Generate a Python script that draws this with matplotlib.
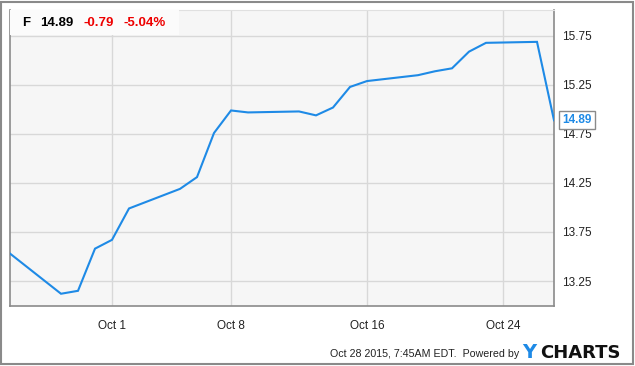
import datetime as dt
import matplotlib
matplotlib.use("Agg")
import matplotlib.pyplot as plt
from matplotlib.patches import Rectangle

# daily closes for F (Ford)
dates = [
    "2015-09-25", "2015-09-28", "2015-09-29", "2015-09-30", "2015-10-01",
    "2015-10-02", "2015-10-05", "2015-10-06", "2015-10-07", "2015-10-08",
    "2015-10-09", "2015-10-12", "2015-10-13", "2015-10-14", "2015-10-15",
    "2015-10-16", "2015-10-19", "2015-10-20", "2015-10-21", "2015-10-22",
    "2015-10-23", "2015-10-26", "2015-10-27",
]
prices = [
    13.53, 13.12, 13.15, 13.58, 13.67,
    13.99, 14.19, 14.31, 14.76, 14.99,
    14.97, 14.98, 14.94, 15.02, 15.23,
    15.29, 15.35, 15.39, 15.42, 15.59,
    15.68, 15.69, 14.89,
]
xtick_dates = ["2015-10-01", "2015-10-08", "2015-10-16", "2015-10-24"]
xtick_labels = ["Oct 1", "Oct 8", "Oct 16", "Oct 24"]
yticks = [13.25, 13.75, 14.25, 14.75, 15.25, 15.75]

ticker = "F"
last_price = "14.89"
change = "-0.79"
change_pct = "-5.04%"
stamp = "Oct 28 2015, 7:45AM EDT.  Powered by"

BLUE = "#1e8ae6"
W, H = 635, 366

plt.rcParams["font.family"] = ["Liberation Sans", "DejaVu Sans"]

x = [dt.datetime.strptime(d, "%Y-%m-%d") for d in dates]
xt = [dt.datetime.strptime(d, "%Y-%m-%d") for d in xtick_dates]

fig = plt.figure(figsize=(W / 100, H / 100), dpi=100)
fig.patch.set_facecolor("white")
ax = fig.add_axes([10 / W, 1 - 306 / H, 544 / W, 296 / H])
ax.set_facecolor("#f6f6f6")

ax.plot(x, prices, color=BLUE, lw=1.5, solid_joinstyle="miter", zorder=3)

ax.set_xlim(dt.datetime(2015, 9, 25), dt.datetime(2015, 10, 27))
ax.set_ylim(12.995, 16.015)
ax.set_xticks(xt)
ax.set_xticklabels(xtick_labels)
ax.set_yticks(yticks)
ax.set_yticklabels([f"{v:.2f}" for v in yticks])
ax.yaxis.tick_right()
ax.tick_params(axis="both", length=0, labelsize=8.5, colors="#222222")
ax.tick_params(axis="x", pad=10)
ax.tick_params(axis="y", pad=6)
ax.grid(True, color="#d8d8d8", lw=1)
ax.set_axisbelow(True)
for side in ["left", "right", "bottom"]:
    ax.spines[side].set_color("#8a8a8a")
    ax.spines[side].set_linewidth(1.2)
ax.spines["top"].set_color("#e0e0e0")

# header box with quote
ax.add_patch(Rectangle((0, 1 - 25 / 296), 169 / 544, 25 / 296, transform=ax.transAxes,
                       facecolor="#fbfbfb", edgecolor="none", zorder=4))
hy = 1 - 23 / H
fig.text(22 / W, hy, ticker, fontsize=9.5, fontweight="bold", color="black", va="center")
fig.text(40 / W, hy, last_price, fontsize=9.5, fontweight="bold", color="black", va="center")
fig.text(83 / W, hy, change, fontsize=9.5, fontweight="bold", color="#ee0000", va="center")
fig.text(124 / W, hy, change_pct, fontsize=9.5, fontweight="bold", color="#ee0000", va="center")

# last price marker on the axis
ax.annotate(last_price, xy=(x[-1], prices[-1]), xycoords="data",
            xytext=(6, 0), textcoords="offset points", va="center", ha="left",
            fontsize=8.5, fontweight="bold", color=BLUE, zorder=6,
            bbox=dict(boxstyle="square,pad=0.25", facecolor="white", edgecolor="#8a8a8a", lw=1),
            annotation_clip=False)

# footer
fig.text(519 / W, 1 - 354 / H, stamp, fontsize=7.7, color="#222222", ha="right", va="center")
fy = 1 - 353 / H
fig.text(522 / W, fy, "Y", fontsize=14, fontweight="bold", family="DejaVu Sans",
         color=BLUE, va="center")
fig.text(540 / W, fy, "CHARTS", fontsize=13, fontweight="bold", family="DejaVu Sans",
         color="#111111", va="center")

# outer frame
fig.add_artist(Rectangle((1 / W, 2 / H), (W - 3) / W, (H - 4) / H, transform=fig.transFigure,
                         facecolor="none", edgecolor="#8a8a8a", lw=1.5))

fig.savefig("out.png", dpi=100)
